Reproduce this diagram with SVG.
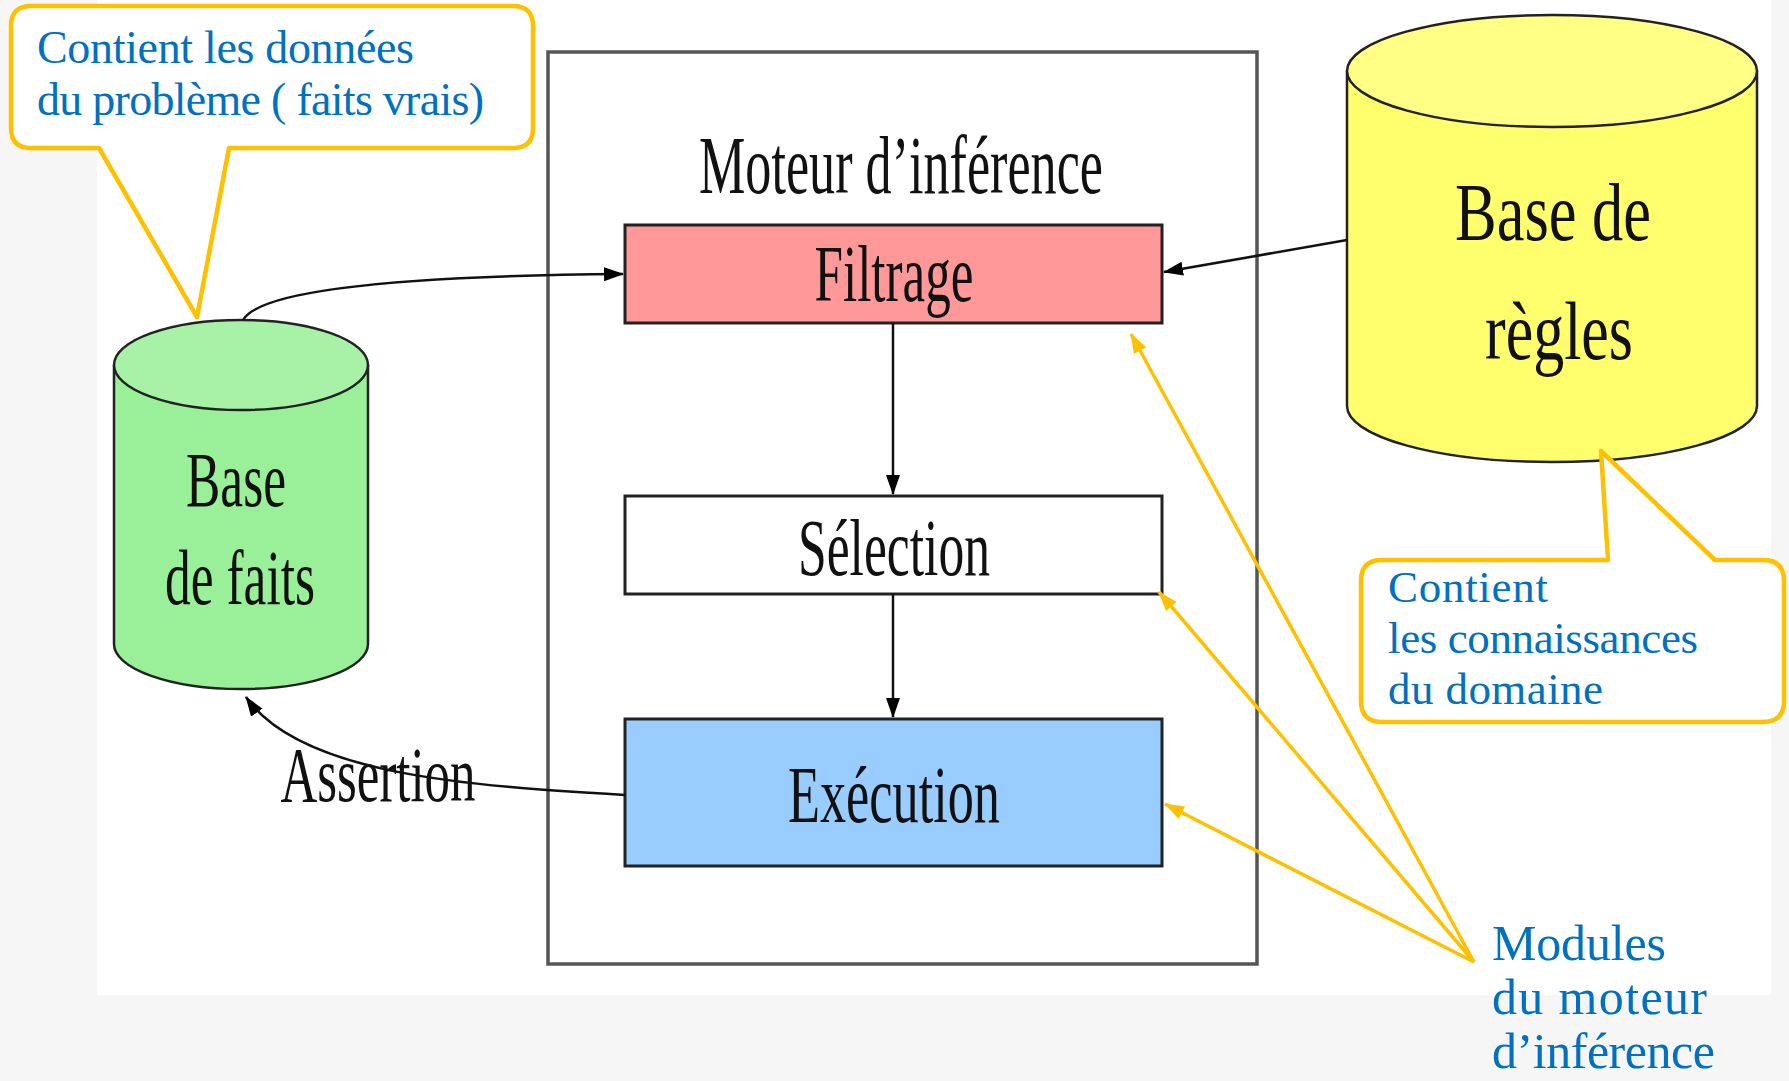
<svg xmlns="http://www.w3.org/2000/svg" width="1789" height="1081" viewBox="0 0 1789 1081">
<defs>
<marker id="blk" markerUnits="userSpaceOnUse" markerWidth="20" markerHeight="16" refX="19" refY="8" orient="auto"><path d="M0,1 L20,8 L0,15 Z" fill="#000"/></marker>
<marker id="ylw" markerUnits="userSpaceOnUse" markerWidth="20" markerHeight="16" refX="19" refY="8" orient="auto"><path d="M0,1 L20,8 L0,15 Z" fill="#FFC000"/></marker>
<style>
.lbl{font-family:"Liberation Serif","Times New Roman",serif;fill:#111;text-anchor:middle}
.blue{font-family:"Liberation Serif","DejaVu Serif",serif;fill:#0070C0}
.box{stroke:#222;stroke-width:3}
.call{fill:#fff;stroke:#FFC000;stroke-width:4.5;stroke-linejoin:round}
.cyl{stroke:#222;stroke-width:2.5}
.conn{fill:none;stroke:#111;stroke-width:2.5}
.ptr{fill:none;stroke:#FFC000;stroke-width:3.5}
</style>
</defs>
<rect width="1789" height="1081" fill="#F6F6F6"/>
<rect x="97" y="0" width="1674" height="995" fill="#FFFFFF"/>

<g id="moteur">
<rect x="548" y="52" width="709" height="912" fill="#fff" stroke="#555" stroke-width="3.5"/>
<text class="lbl" x="901" y="193" font-size="83" textLength="404" lengthAdjust="spacingAndGlyphs">Moteur d’inférence</text>
</g>

<g id="filtrage">
<rect class="box" x="625" y="225" width="537" height="98" fill="#FF9999"/>
<text class="lbl" x="894" y="301" font-size="80" textLength="159" lengthAdjust="spacingAndGlyphs">Filtrage</text>
</g>

<g id="selection">
<rect class="box" x="625" y="496" width="537" height="98" fill="#FFFFFF"/>
<text class="lbl" x="894" y="575" font-size="80" textLength="192" lengthAdjust="spacingAndGlyphs">Sélection</text>
</g>

<g id="execution">
<rect class="box" x="625" y="719" width="537" height="147" fill="#99CCFF"/>
<text class="lbl" x="894" y="822" font-size="80" textLength="212" lengthAdjust="spacingAndGlyphs">Exécution</text>
</g>

<g id="base-faits">
<path class="cyl" d="M114,365 L114,644 A127,45 0 0 0 368,644 L368,365" fill="#99F099"/>
<ellipse class="cyl" cx="241" cy="365" rx="127" ry="45" fill="#A8F2A8"/>
<text class="lbl" x="236" y="506" font-size="78" textLength="100" lengthAdjust="spacingAndGlyphs">Base</text>
<text class="lbl" x="240" y="604" font-size="78" textLength="150" lengthAdjust="spacingAndGlyphs">de faits</text>
</g>

<g id="base-regles">
<path class="cyl" d="M1347,71 L1347,406 A205,56 0 0 0 1757,406 L1757,71" fill="#FFFF6E"/>
<ellipse class="cyl" cx="1552" cy="71" rx="205" ry="56" fill="#FFFF85"/>
<text class="lbl" x="1553" y="240" font-size="82" textLength="196" lengthAdjust="spacingAndGlyphs">Base de</text>
<text class="lbl" x="1559" y="359" font-size="82" textLength="148" lengthAdjust="spacingAndGlyphs">règles</text>
</g>

<g id="connectors">
<path class="conn" d="M243,320 C260,290 400,276 623,274" marker-end="url(#blk)"/>
<path class="conn" d="M1347,240 L1164,272" marker-end="url(#blk)"/>
<path class="conn" d="M893,323 L893,494" marker-end="url(#blk)"/>
<path class="conn" d="M893,594 L893,717" marker-end="url(#blk)"/>
<path class="conn" d="M625,795 C470,786 300,775 246,697" marker-end="url(#blk)"/>
<text class="lbl" x="378" y="801" font-size="78" textLength="195" lengthAdjust="spacingAndGlyphs">Assertion</text>
<path class="ptr" d="M1474,962 L1131,334" marker-end="url(#ylw)"/>
<path class="ptr" d="M1474,962 L1159,592" marker-end="url(#ylw)"/>
<path class="ptr" d="M1474,962 L1165,804" marker-end="url(#ylw)"/>
</g>

<g id="callout-faits">
<path class="call" d="M31,6 H513 Q533,6 533,26 V128 Q533,148 513,148 H229 L197,317 L99,148 H31 Q11,148 11,128 V26 Q11,6 31,6 Z"/>
<text class="blue" x="37" y="63" font-size="46" textLength="377">Contient les données</text>
<text class="blue" x="37" y="115" font-size="46" textLength="447">du problème ( faits vrais)</text>
</g>

<g id="callout-regles">
<path class="call" d="M1382,560 H1608 L1601,451 L1715,560 H1763 Q1784,560 1784,581 V701 Q1784,722 1763,722 H1382 Q1361,722 1361,701 V581 Q1361,560 1382,560 Z"/>
<text class="blue" x="1388" y="602" font-size="45" textLength="160">Contient</text>
<text class="blue" x="1388" y="653" font-size="45" textLength="310">les connaissances</text>
<text class="blue" x="1388" y="704" font-size="45" textLength="215">du domaine</text>
</g>

<g id="label-modules">
<text class="blue" x="1492" y="960" font-size="50" textLength="174">Modules</text>
<text class="blue" x="1492" y="1014" font-size="50" textLength="215">du moteur</text>
<text class="blue" x="1492" y="1068" font-size="50" textLength="223">d’inférence</text>
</g>
</svg>
